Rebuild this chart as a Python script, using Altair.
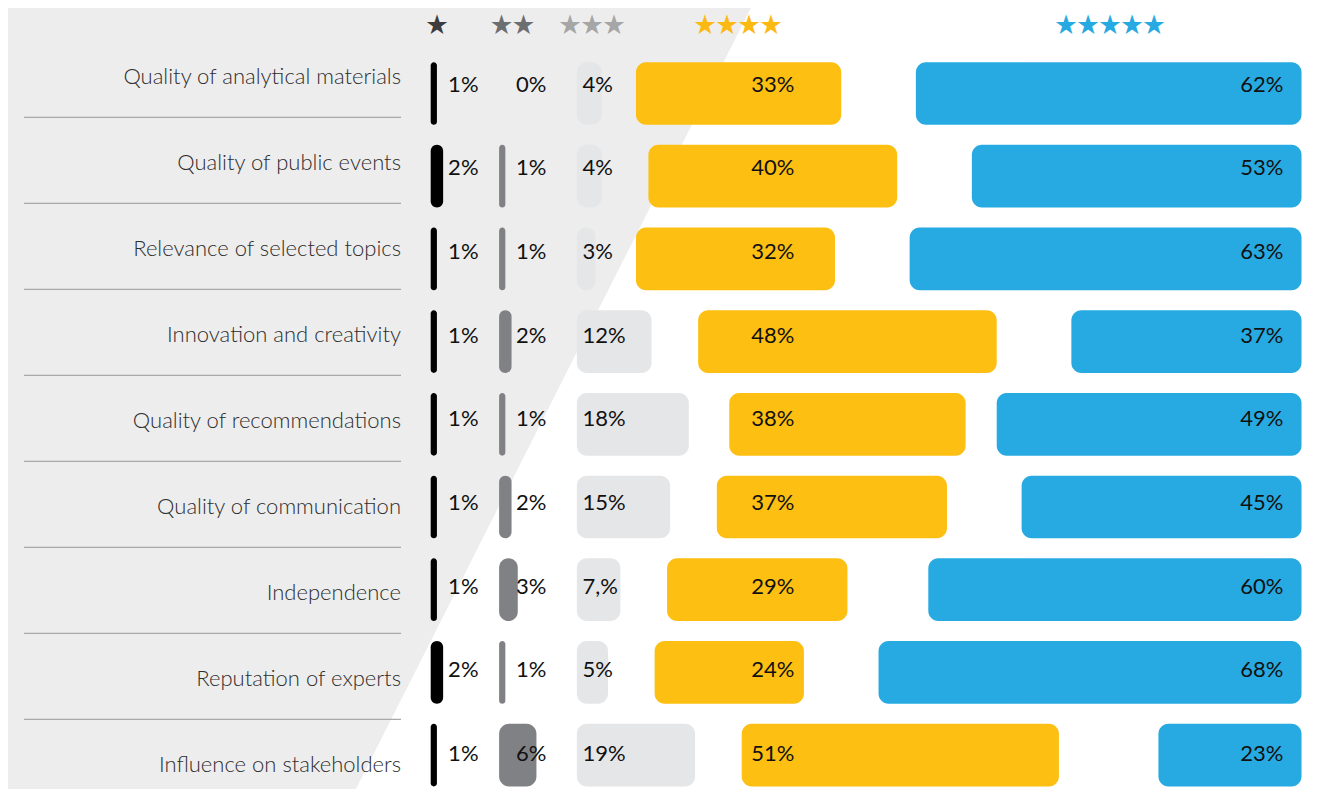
import altair as alt
import pandas as pd

# ---- data ----
categories = [
    "Quality of analytical materials",
    "Quality of public events",
    "Relevance of selected topics",
    "Innovation and creativity",
    "Quality of recommendations",
    "Quality of communication",
    "Independence",
    "Reputation of experts",
    "Influence on stakeholders",
]
one_star = [1, 2, 1, 1, 1, 1, 1, 2, 1]
two_star = [0, 1, 1, 2, 1, 2, 3, 1, 6]
three_star = [4, 4, 3, 12, 18, 15, 7, 5, 19]
four_star = [33, 40, 32, 48, 38, 37, 29, 24, 51]
five_star = [62, 53, 63, 37, 49, 45, 60, 68, 23]
three_star_labels = ["4%", "4%", "3%", "12%", "18%", "15%", "7,%", "5%", "19%"]
star_headers = ["★", "★★", "★★★", "★★★★", "★★★★★"]
levels = ["1", "2", "3", "4", "5"]

# ---- layout / style constants ----
X_MAX = 140          # percent units across the bar area
START2 = 11.0        # left start of the 2-star column
START3 = 23.5        # left start of the 3-star column
GAP4 = 28.0          # gap before the 4-star bar (stacked after 1..3)
MAXGAP3 = 7.5        # ...but never further than this from the 3-star bar
LABEL_X = {"1": 2.8, "2": 13.7, "3": 24.4, "4": 55.0, "5": 137.1}
HALF = 0.379         # half bar height in row units
BAR_COLORS = ["#000000", "#808184", "#e5e6e8", "#fdbf12", "#27aae1"]
STAR_COLORS = ["#3c3c3e", "#6d6e71", "#a6a6a6", "#fdb913", "#27aae1"]
STAR_PX = [429, 504.5, 584, 730, 1102]
FONT = "Lato"

W, H = 1301, 781

xs = alt.Scale(domain=[0, X_MAX], range=[422.7, 1293.5], zero=False, nice=False)
y_bar = alt.Scale(domain=[0, 8], range=[85.5, 747.1], zero=False, nice=False)
y_pct = alt.Scale(domain=[0, 8], range=[83.7, 753.0], zero=False, nice=False)
y_cat = alt.Scale(domain=[0, 8], range=[76.0, 764.0], zero=False, nice=False)
y_sep = alt.Scale(domain=[0, 8], range=[109.3, 797.3], zero=False, nice=False)

rows = []
for i, cat in enumerate(categories):
    v = [one_star[i], two_star[i], three_star[i], four_star[i], five_star[i]]
    start4 = min(v[0] + v[1] + v[2] + GAP4, START3 + v[2] + MAXGAP3)
    starts = [0.0, START2, START3, start4, X_MAX - v[4]]
    for k, lev in enumerate(levels):
        label = three_star_labels[i] if lev == "3" else f"{v[k]}%"
        rows.append({
            "row": i, "category": cat, "level": lev, "value": v[k],
            "x0": starts[k], "x1": starts[k] + v[k],
            "ylo": i - HALF, "yhi": i + HALF,
            "lx": LABEL_X[lev], "label": label,
        })
df = pd.DataFrame(rows)
cats_df = pd.DataFrame({"row": list(range(len(categories))), "category": categories})
sep_df = pd.DataFrame({"row": list(range(len(categories) - 1))})
bg_df = pd.DataFrame({"by": [-1.2, 8.6], "bx": [52.6, -13.3], "bx2": [-90.0, -90.0]})

background = alt.Chart(bg_df).mark_area(orient="horizontal", color="#ededed", clip=True).encode(
    y=alt.Y("by:Q", scale=y_bar, axis=None),
    x=alt.X("bx:Q", scale=xs, axis=None),
    x2="bx2:Q",
)

bars = alt.Chart(df).mark_bar(cornerRadius=10).encode(
    x=alt.X("x0:Q", scale=xs, axis=None),
    x2="x1:Q",
    y=alt.Y("ylo:Q", scale=y_bar, axis=None),
    y2="yhi:Q",
    color=alt.Color("level:N", scale=alt.Scale(domain=levels, range=BAR_COLORS), legend=None),
)

def pct_text(filter_expr, align):
    return alt.Chart(df).transform_filter(filter_expr).mark_text(
        align=align, baseline="alphabetic", font=FONT, fontSize=22, color="#111111"
    ).encode(
        x=alt.X("lx:Q", scale=xs, axis=None),
        y=alt.Y("row:Q", scale=y_pct, axis=None),
        text="label:N",
    )

pct_left = pct_text("datum.level <= '3'", "left")
pct_center = pct_text("datum.level == '4'", "center")
pct_right = pct_text("datum.level == '5'", "right")

cat_labels = alt.Chart(cats_df).mark_text(
    align="right", baseline="alphabetic", font=FONT, fontSize=22, fontWeight=300, color="#2e2e2e"
).encode(
    x=alt.value(393),
    y=alt.Y("row:Q", scale=y_cat, axis=None),
    text="category:N",
)

separators = alt.Chart(sep_df).mark_rule(color="#a7a9ac", strokeWidth=1.3).encode(
    x=alt.value(16),
    x2=alt.value(393),
    y=alt.Y("row:Q", scale=y_sep, axis=None),
)

headers = []
for k, txt in enumerate(star_headers):
    headers.append(
        alt.Chart(pd.DataFrame({"t": [txt]})).mark_text(
            align="center", baseline="middle", font="Noto Sans CJK SC", fontSize=22,
            color=STAR_COLORS[k]
        ).encode(x=alt.value(STAR_PX[k]), y=alt.value(17), text="t:N")
    )

chart = alt.layer(
    background, separators, cat_labels, bars, pct_left, pct_center, pct_right, *headers
).resolve_scale(y="independent").properties(
    width=W, height=H, padding=0, autosize=alt.AutoSizeParams(type="none"), background="white"
).configure_view(stroke=None)

chart.save("out.html", embed_options={"renderer": "svg", "actions": False})
